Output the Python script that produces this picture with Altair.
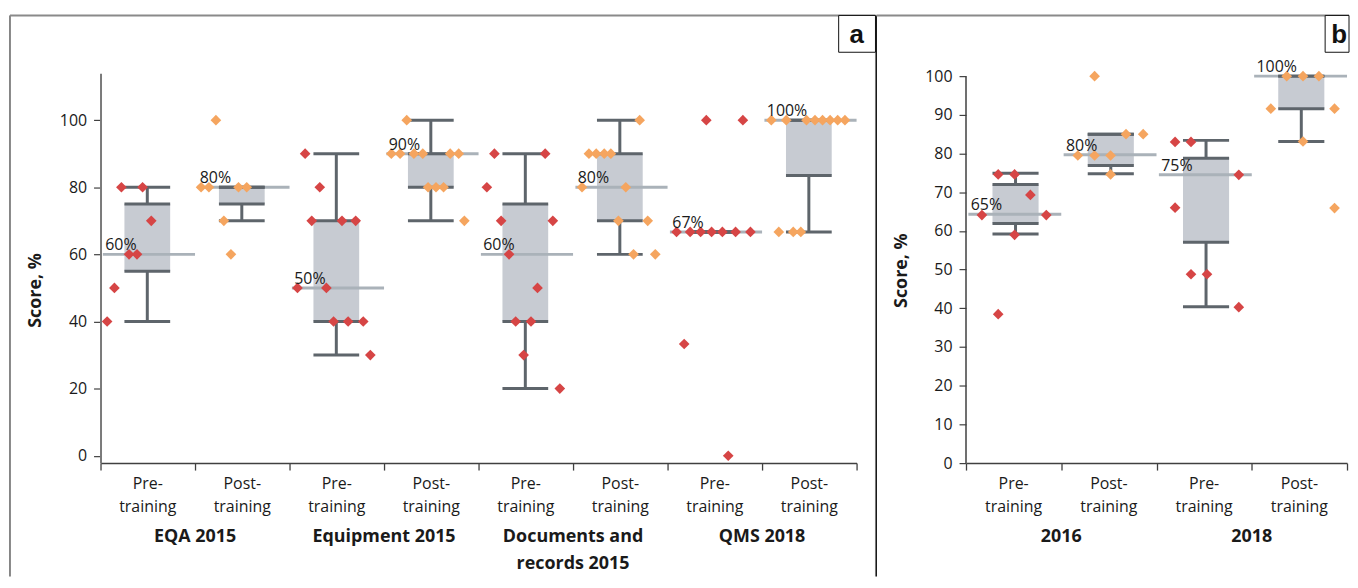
import altair as alt
import pandas as pd

FONT = "Open Sans"
RED = "#d64545"
ORANGE = "#f5a55f"
BOXFILL = "#c7cbd2"
DARK = "#5e656b"
MEDC = "#aab2b9"
TXT = "#1a1a1a"
AXC = "#404040"

# ---------------- Panel a ----------------
a_cat_line1 = ["Pre-", "Post-"] * 4
a_cat_line2 = ["training"] * 8
a_group_line1 = ["EQA 2015", "Equipment 2015", "Documents and", "QMS 2018"]
a_group_line2 = ["", "", "records 2015", ""]

eqa_pre_x = [0.07, 0.147, 0.221, 0.302, 0.386, 0.445, 0.537]
eqa_pre_y = [40, 50, 80, 60, 60, 80, 70]
eqa_post_x = [0.064, 0.147, 0.221, 0.305, 0.38, 0.46, 0.547]
eqa_post_y = [80, 80, 100, 70, 60, 80, 80]
equip_pre_x = [0.084, 0.165, 0.235, 0.32, 0.39, 0.466, 0.555, 0.62, 0.70, 0.78, 0.855]
equip_pre_y = [50, 90, 70, 80, 50, 40, 70, 40, 70, 40, 30]
equip_post_x = [0.077, 0.17, 0.24, 0.316, 0.41, 0.466, 0.55, 0.63, 0.70, 0.79, 0.85]
equip_post_y = [90, 90, 100, 90, 90, 80, 80, 80, 90, 90, 70]
docs_pre_x = [0.088, 0.168, 0.239, 0.323, 0.393, 0.477, 0.555, 0.624, 0.705, 0.786, 0.86]
docs_pre_y = [80, 90, 70, 60, 40, 30, 40, 50, 90, 70, 20]
docs_post_x = [0.095, 0.168, 0.245, 0.33, 0.40, 0.48, 0.558, 0.64, 0.705, 0.79, 0.87]
docs_post_y = [80, 90, 90, 90, 90, 70, 80, 60, 100, 70, 60]
qms_pre_x = [0.095, 0.176, 0.239, 0.35, 0.41, 0.466, 0.58, 0.642, 0.72, 0.797, 0.877]
qms_pre_y = [66.7, 33.3, 66.7, 66.7, 100, 66.7, 66.7, 0, 66.7, 100, 66.7]
qms_post_x = [0.098, 0.177, 0.256, 0.33, 0.41, 0.47, 0.56, 0.64, 0.72, 0.80, 0.877]
qms_post_y = [100, 66.7, 100, 66.7, 66.7, 100, 100, 100, 100, 100, 100]

a_lo = [40, 70, 30, 70, 20, 60, 66.7, 66.7]
a_q1 = [55, 75, 40, 80, 40, 70, 66.7, 83.5]
a_med = [60, 80, 50, 90, 60, 80, 66.7, 100]
a_q3 = [75, 80, 70, 90, 75, 90, 66.7, 100]
a_hi = [80, 80, 90, 100, 90, 100, 66.7, 100]
a_med_labels = ["60%", "80%", "50%", "90%", "60%", "80%", "67%", "100%"]

a_px = [eqa_pre_x, eqa_post_x, equip_pre_x, equip_post_x, docs_pre_x, docs_post_x, qms_pre_x, qms_post_x]
a_py = [eqa_pre_y, eqa_post_y, equip_pre_y, equip_post_y, docs_pre_y, docs_post_y, qms_pre_y, qms_post_y]
a_yticks = [0, 20, 40, 60, 80, 100]

# ---------------- Panel b ----------------
b_cat_line1 = ["Pre-", "Post-"] * 2
b_cat_line2 = ["training"] * 4
b_group_line1 = ["2016", "2018"]
b_group_line2 = ["", ""]

y16_pre_x = [0.167, 0.338, 0.338, 0.51, 0.51, 0.676, 0.843]
y16_pre_y = [64.1, 74.6, 38.5, 74.6, 59.0, 69.3, 64.1]
y16_post_x = [0.174, 0.35, 0.35, 0.518, 0.518, 0.68, 0.86]
y16_post_y = [79.5, 100, 79.5, 79.5, 74.6, 85, 85]
y18_pre_x = [0.195, 0.195, 0.362, 0.362, 0.53, 0.864, 0.864]
y18_pre_y = [83, 66, 83, 48.8, 48.8, 74.5, 40.3]
y18_post_x = [0.2, 0.367, 0.538, 0.538, 0.705, 0.869, 0.869]
y18_post_y = [91.6, 100, 100, 83.1, 100, 91.6, 65.9]

b_lo = [59.2, 74.8, 40.4, 83.1]
b_q1 = [61.9, 76.9, 57.1, 91.6]
b_med = [64.3, 79.7, 74.5, 100]
b_q3 = [72.0, 85.0, 78.8, 100]
b_hi = [74.9, 85.0, 83.4, 100]
b_med_labels = ["65%", "80%", "75%", "100%"]

b_px = [y16_pre_x, y16_post_x, y18_pre_x, y18_post_x]
b_py = [y16_pre_y, y16_post_y, y18_pre_y, y18_post_y]
b_yticks = list(range(0, 101, 10))

PLOT_H = 392


def const(mark_fn):
    return mark_fn


def build_panel(ncat, px, py, lo, q1, med, q3, hi, mlabels, l1, l2, g1, g2,
                ydom, yticks, width, box_c, title_y, left_b, right_b,
                letter, letter_x0, letter_x1, letter_tx, own_axis_line, draw_right):
    rows = []
    for i in range(ncat):
        for o, v in zip(px[i], py[i]):
            rows.append({"x": i + o, "y": v, "phase": "Pre" if i % 2 == 0 else "Post"})
    pts = pd.DataFrame(rows)
    box = pd.DataFrame({"cat": list(range(ncat)), "lo": lo, "q1": q1, "med": med,
                        "q3": q3, "hi": hi, "label": mlabels})
    cats = pd.DataFrame({"cat": list(range(ncat)), "l1": l1, "l2": l2})
    groups = pd.DataFrame({"g": list(range(ncat // 2)), "g1": g1, "g2": g2})

    xs = alt.Scale(domain=[0, ncat], nice=False, zero=False)
    ys = alt.Scale(domain=ydom, nice=False, zero=False)
    xaxis = alt.Axis(values=list(range(ncat + 1)), labels=False, title=None, grid=False,
                     tickSize=7, tickColor=AXC, tickWidth=1.3, domainColor=AXC, domainWidth=1.5)
    yaxis = alt.Axis(values=yticks, title="Score, %", grid=False, tickSize=7, tickColor=AXC,
                     tickWidth=1.2, labelPadding=7, labelFont=FONT, labelFontSize=16,
                     labelColor=TXT, domain=not own_axis_line, domainColor="#7a7a7a",
                     domainWidth=2, titleFont=FONT, titleFontSize=18, titleFontWeight="bold",
                     titleColor=TXT, titleX=-65, titleY=title_y, titleBaseline="middle",
                     titleAlign="center")

    def X(f):
        return alt.X(f + ":Q", scale=xs, axis=xaxis)

    def Y(f):
        return alt.Y(f + ":Q", scale=ys, axis=yaxis)

    one = alt.Data(values=[{}])
    layers = []
    # frame
    layers.append(alt.Chart(one).mark_rule(color="#111111", strokeWidth=1).encode(
        x=alt.value(left_b), y=alt.value(-58), y2=alt.value(506)))
    if draw_right:
        layers.append(alt.Chart(one).mark_rule(color="#777777", strokeWidth=1).encode(
            x=alt.value(right_b), y=alt.value(-58), y2=alt.value(506)))
    layers.append(alt.Chart(one).mark_rule(color="#8a8a8a", strokeWidth=2).encode(
        x=alt.value(left_b), x2=alt.value(right_b), y=alt.value(-58)))
    layers.append(alt.Chart(one).mark_rect(fill="white", stroke="#111111", strokeWidth=1).encode(
        x=alt.value(letter_x0), x2=alt.value(letter_x1), y=alt.value(-58), y2=alt.value(-21)))
    layers.append(alt.Chart(one).mark_text(font="Liberation Sans", fontSize=26, fontWeight="bold",
                                           color="#111111", baseline="middle", align="center").encode(
        x=alt.value(letter_tx), y=alt.value(-38), text=alt.value(letter)))

    bx = alt.Chart(box).transform_calculate(
        bx=f"datum.cat + {box_c - 0.242}",
        bx2=f"datum.cat + {box_c + 0.242}",
        cx=f"datum.cat + {box_c}",
        mx="datum.cat + 0.025",
        mx2="datum.cat + 1",
        lx="datum.cat + 0.05",
    )
    layers.append(bx.mark_rect(color=BOXFILL).encode(x=X("bx"), x2="bx2", y=Y("q1"), y2="q3"))
    layers.append(bx.mark_rule(color=MEDC, strokeWidth=3).encode(x=X("mx"), x2="mx2", y=Y("med")))
    layers.append(bx.mark_rule(color=DARK, strokeWidth=3).encode(x=X("cx"), y=Y("q3"), y2="hi"))
    layers.append(bx.mark_rule(color=DARK, strokeWidth=3).encode(x=X("cx"), y=Y("lo"), y2="q1"))
    layers.append(bx.transform_fold(["lo", "q1", "q3", "hi"], as_=["k", "v"]).mark_rule(
        color=DARK, strokeWidth=3).encode(x=X("bx"), x2="bx2", y=Y("v")))

    if own_axis_line:
        layers.append(alt.Chart(alt.Data(values=[{"a0": 0, "a1": 100}])).mark_rule(
            color=AXC, strokeWidth=1.5).encode(x=alt.value(0), y=Y("a0"), y2="a1"))

    layers.append(alt.Chart(pts).mark_point(shape="diamond", filled=True, size=115, opacity=1).encode(
        x=X("x"), y=Y("y"),
        color=alt.Color("phase:N", scale=alt.Scale(domain=["Pre", "Post"], range=[RED, ORANGE]),
                        legend=None)))

    layers.append(bx.mark_text(align="left", baseline="alphabetic", dy=-4, font=FONT, fontSize=16,
                               color=TXT).encode(x=X("lx"), y=Y("med"), text="label:N"))

    cc = alt.Chart(cats).transform_calculate(xc="datum.cat + 0.5")
    layers.append(cc.mark_text(font=FONT, fontSize=16, color=TXT, baseline="middle").encode(
        x=X("xc"), y=alt.value(413), text="l1:N"))
    layers.append(cc.mark_text(font=FONT, fontSize=16, color=TXT, baseline="middle").encode(
        x=X("xc"), y=alt.value(436), text="l2:N"))
    gc = alt.Chart(groups).transform_calculate(xg="datum.g * 2 + 1")
    layers.append(gc.mark_text(font=FONT, fontSize=18, fontWeight="bold", color=TXT,
                               baseline="middle").encode(x=X("xg"), y=alt.value(466), text="g1:N"))
    layers.append(gc.mark_text(font=FONT, fontSize=18, fontWeight="bold", color=TXT,
                               baseline="middle").encode(x=X("xg"), y=alt.value(493), text="g2:N"))

    return alt.layer(*layers).properties(width=width, height=PLOT_H)


panel_a = build_panel(8, a_px, a_py, a_lo, a_q1, a_med, a_q3, a_hi, a_med_labels,
                      a_cat_line1, a_cat_line2, a_group_line1, a_group_line2,
                      [-2.2, 114.0], a_yticks, 760, 0.495, 218, -91, 779,
                      "a", 742, 779, 760, False, True)

panel_b = build_panel(4, b_px, b_py, b_lo, b_q1, b_med, b_q3, b_hi, b_med_labels,
                      b_cat_line1, b_cat_line2, b_group_line1, b_group_line2,
                      [0, 100.77], b_yticks, 383, 0.52, 198, -90, 385,
                      "b", 361, 385, 375, True, False)

chart = alt.hconcat(panel_a, panel_b, spacing=110, bounds="flush").configure_view(
    stroke=None).properties(padding={"left": 1, "top": 5, "right": 0, "bottom": 0})

chart.save("out.html", embed_options={"renderer": "svg", "actions": False})
